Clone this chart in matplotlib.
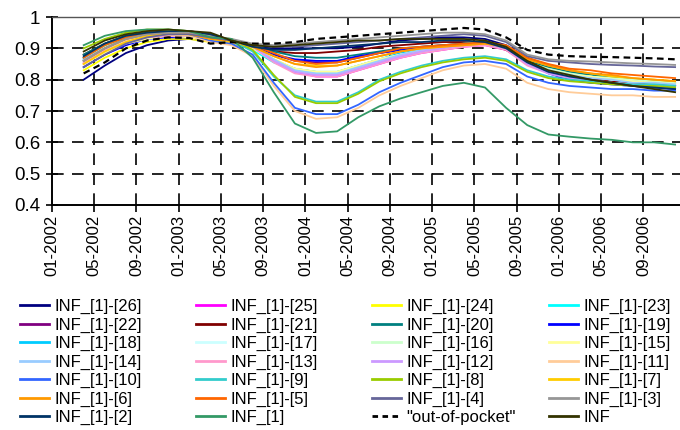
"""INF series vs "out-of-pocket" -- monthly index, 2002-2006 (Excel-style line chart)."""
import matplotlib
matplotlib.use("Agg")
import matplotlib.pyplot as plt
from matplotlib.lines import Line2D

plt.rcParams["font.family"] = ["Liberation Sans Narrow", "Liberation Sans", "DejaVu Sans"]

# month index: 0 = 01-2002
months = [3, 5, 7, 9, 11, 13, 15, 17, 19, 21, 23, 25, 27, 29, 31,
          33, 35, 37, 39, 41, 43, 45, 47, 49, 51, 53, 55, 57, 59]
tick_pos = [0, 4, 8, 12, 16, 20, 24, 28, 32, 36, 40, 44, 48, 52, 56]
tick_labels = ["01-2002", "05-2002", "09-2002", "01-2003", "05-2003", "09-2003",
               "01-2004", "05-2004", "09-2004", "01-2005", "05-2005", "09-2005",
               "01-2006", "05-2006", "09-2006"]

inf_26 = [0.80, 0.845, 0.885, 0.91, 0.925, 0.93, 0.925, 0.92, 0.905, 0.90, 0.90, 0.90, 0.90, 0.905, 0.915,
          0.925, 0.93, 0.935, 0.935, 0.93, 0.91, 0.87, 0.845, 0.83, 0.815, 0.80, 0.79, 0.785, 0.78]
inf_25 = [0.85, 0.89, 0.92, 0.935, 0.94, 0.94, 0.925, 0.92, 0.905, 0.86, 0.825, 0.81, 0.81, 0.83, 0.85,
          0.87, 0.885, 0.895, 0.905, 0.91, 0.895, 0.85, 0.825, 0.81, 0.80, 0.795, 0.79, 0.785, 0.78]
inf_24 = [0.83, 0.87, 0.90, 0.92, 0.93, 0.93, 0.92, 0.915, 0.90, 0.865, 0.835, 0.825, 0.825, 0.845, 0.865,
          0.88, 0.895, 0.905, 0.91, 0.915, 0.905, 0.86, 0.835, 0.82, 0.815, 0.81, 0.80, 0.80, 0.795]
inf_23 = [0.865, 0.90, 0.925, 0.94, 0.945, 0.945, 0.93, 0.92, 0.895, 0.855, 0.83, 0.82, 0.82, 0.84, 0.86,
          0.88, 0.89, 0.90, 0.91, 0.915, 0.90, 0.855, 0.83, 0.82, 0.81, 0.805, 0.80, 0.795, 0.79]
inf_22 = [0.87, 0.91, 0.935, 0.945, 0.95, 0.95, 0.94, 0.925, 0.905, 0.88, 0.86, 0.855, 0.855, 0.87, 0.885,
          0.895, 0.905, 0.91, 0.915, 0.915, 0.90, 0.855, 0.83, 0.815, 0.805, 0.80, 0.79, 0.785, 0.78]
inf_21 = [0.88, 0.915, 0.94, 0.95, 0.955, 0.955, 0.945, 0.925, 0.905, 0.89, 0.885, 0.885, 0.89, 0.895, 0.905,
          0.91, 0.915, 0.92, 0.92, 0.915, 0.895, 0.855, 0.83, 0.815, 0.805, 0.795, 0.79, 0.785, 0.78]
inf_20 = [0.88, 0.915, 0.94, 0.95, 0.955, 0.95, 0.935, 0.925, 0.91, 0.89, 0.875, 0.87, 0.87, 0.88, 0.89,
          0.90, 0.905, 0.91, 0.915, 0.92, 0.905, 0.86, 0.84, 0.825, 0.815, 0.81, 0.80, 0.795, 0.79]
inf_19 = [0.84, 0.88, 0.91, 0.93, 0.935, 0.935, 0.925, 0.92, 0.905, 0.88, 0.865, 0.86, 0.86, 0.875, 0.885,
          0.895, 0.90, 0.905, 0.91, 0.915, 0.90, 0.855, 0.82, 0.80, 0.79, 0.785, 0.78, 0.775, 0.77]
inf_18 = [0.87, 0.905, 0.93, 0.945, 0.95, 0.945, 0.93, 0.925, 0.90, 0.86, 0.835, 0.825, 0.825, 0.845, 0.865,
          0.885, 0.895, 0.905, 0.915, 0.92, 0.905, 0.855, 0.83, 0.815, 0.81, 0.80, 0.795, 0.79, 0.785]
inf_17 = [0.865, 0.90, 0.925, 0.94, 0.945, 0.94, 0.925, 0.92, 0.90, 0.86, 0.83, 0.82, 0.82, 0.84, 0.86,
          0.88, 0.89, 0.90, 0.91, 0.915, 0.90, 0.85, 0.83, 0.815, 0.81, 0.80, 0.795, 0.79, 0.79]
inf_16 = [0.87, 0.905, 0.93, 0.945, 0.95, 0.945, 0.93, 0.925, 0.90, 0.86, 0.835, 0.825, 0.825, 0.845, 0.865,
          0.88, 0.895, 0.905, 0.91, 0.915, 0.90, 0.855, 0.835, 0.82, 0.81, 0.805, 0.80, 0.795, 0.79]
inf_15 = [0.85, 0.885, 0.915, 0.93, 0.94, 0.935, 0.925, 0.92, 0.90, 0.865, 0.835, 0.825, 0.825, 0.845, 0.865,
          0.88, 0.89, 0.90, 0.91, 0.915, 0.90, 0.855, 0.83, 0.815, 0.81, 0.80, 0.795, 0.79, 0.785]
inf_14 = [0.865, 0.90, 0.925, 0.94, 0.945, 0.94, 0.925, 0.92, 0.905, 0.865, 0.83, 0.82, 0.82, 0.84, 0.86,
          0.88, 0.895, 0.905, 0.91, 0.915, 0.90, 0.855, 0.83, 0.815, 0.805, 0.80, 0.79, 0.79, 0.785]
inf_13 = [0.855, 0.895, 0.92, 0.935, 0.94, 0.94, 0.925, 0.92, 0.905, 0.855, 0.82, 0.81, 0.81, 0.83, 0.85,
          0.87, 0.885, 0.895, 0.905, 0.91, 0.895, 0.845, 0.82, 0.805, 0.795, 0.79, 0.785, 0.78, 0.78]
inf_12 = [0.86, 0.90, 0.925, 0.94, 0.945, 0.94, 0.925, 0.92, 0.905, 0.86, 0.825, 0.815, 0.815, 0.835, 0.855,
          0.875, 0.89, 0.90, 0.91, 0.915, 0.90, 0.85, 0.82, 0.805, 0.80, 0.79, 0.785, 0.78, 0.775]
inf_11 = [0.85, 0.89, 0.925, 0.94, 0.945, 0.94, 0.92, 0.91, 0.875, 0.78, 0.70, 0.675, 0.68, 0.71, 0.75,
          0.78, 0.805, 0.83, 0.845, 0.85, 0.835, 0.79, 0.77, 0.76, 0.755, 0.75, 0.75, 0.745, 0.745]
inf_10 = [0.86, 0.90, 0.93, 0.945, 0.95, 0.945, 0.925, 0.915, 0.88, 0.79, 0.71, 0.69, 0.69, 0.72, 0.76,
          0.79, 0.815, 0.84, 0.855, 0.86, 0.85, 0.81, 0.79, 0.78, 0.775, 0.77, 0.77, 0.765, 0.765]
inf_9 = [0.87, 0.91, 0.935, 0.95, 0.955, 0.95, 0.93, 0.925, 0.89, 0.81, 0.75, 0.73, 0.73, 0.76, 0.80,
         0.825, 0.845, 0.86, 0.87, 0.875, 0.865, 0.83, 0.81, 0.80, 0.795, 0.79, 0.785, 0.785, 0.78]
inf_8 = [0.90, 0.93, 0.95, 0.96, 0.96, 0.955, 0.935, 0.93, 0.895, 0.815, 0.745, 0.725, 0.725, 0.755, 0.795,
         0.82, 0.84, 0.855, 0.865, 0.87, 0.86, 0.825, 0.805, 0.795, 0.79, 0.785, 0.78, 0.78, 0.775]
inf_7 = [0.85, 0.89, 0.92, 0.94, 0.945, 0.945, 0.93, 0.92, 0.905, 0.875, 0.85, 0.845, 0.845, 0.86, 0.875,
         0.89, 0.90, 0.905, 0.91, 0.915, 0.905, 0.865, 0.845, 0.83, 0.82, 0.81, 0.805, 0.80, 0.795]
inf_6 = [0.86, 0.90, 0.93, 0.945, 0.95, 0.945, 0.93, 0.925, 0.905, 0.875, 0.85, 0.84, 0.845, 0.86, 0.875,
         0.89, 0.90, 0.905, 0.91, 0.915, 0.905, 0.865, 0.845, 0.83, 0.82, 0.815, 0.805, 0.80, 0.795]
inf_5 = [0.87, 0.91, 0.935, 0.95, 0.955, 0.95, 0.935, 0.925, 0.91, 0.885, 0.86, 0.85, 0.855, 0.87, 0.885,
         0.90, 0.905, 0.91, 0.915, 0.92, 0.91, 0.87, 0.85, 0.835, 0.83, 0.82, 0.815, 0.81, 0.805]
inf_4 = [0.84, 0.88, 0.915, 0.935, 0.945, 0.945, 0.935, 0.925, 0.91, 0.905, 0.905, 0.91, 0.915, 0.92, 0.925,
         0.93, 0.935, 0.94, 0.945, 0.94, 0.92, 0.875, 0.86, 0.855, 0.85, 0.847, 0.845, 0.842, 0.84]
inf_3 = [0.86, 0.90, 0.93, 0.945, 0.95, 0.95, 0.94, 0.93, 0.915, 0.91, 0.915, 0.92, 0.925, 0.93, 0.935,
         0.94, 0.945, 0.95, 0.95, 0.945, 0.925, 0.88, 0.865, 0.86, 0.858, 0.855, 0.852, 0.85, 0.847]
inf_2 = [0.875, 0.915, 0.94, 0.95, 0.955, 0.955, 0.945, 0.925, 0.905, 0.895, 0.895, 0.90, 0.905, 0.91, 0.915,
         0.92, 0.92, 0.925, 0.925, 0.92, 0.90, 0.855, 0.825, 0.81, 0.80, 0.79, 0.78, 0.775, 0.77]
inf_1 = [0.91, 0.94, 0.955, 0.96, 0.96, 0.955, 0.935, 0.93, 0.87, 0.76, 0.66, 0.63, 0.635, 0.68, 0.715,
         0.74, 0.76, 0.78, 0.79, 0.775, 0.71, 0.655, 0.625, 0.618, 0.612, 0.608, 0.60, 0.60, 0.593]
out_of_pocket = [0.82, 0.855, 0.90, 0.925, 0.935, 0.933, 0.915, 0.92, 0.915, 0.915, 0.92, 0.93, 0.935, 0.94, 0.945,
                 0.95, 0.955, 0.96, 0.965, 0.96, 0.935, 0.895, 0.88, 0.875, 0.873, 0.872, 0.87, 0.868, 0.865]
inf_all = [0.89, 0.925, 0.945, 0.955, 0.96, 0.955, 0.95, 0.925, 0.91, 0.905, 0.91, 0.915, 0.92, 0.925, 0.925,
           0.93, 0.93, 0.93, 0.93, 0.925, 0.905, 0.86, 0.83, 0.815, 0.80, 0.79, 0.78, 0.77, 0.76]

labels = ["INF_[1]-[26]", "INF_[1]-[25]", "INF_[1]-[24]", "INF_[1]-[23]",
          "INF_[1]-[22]", "INF_[1]-[21]", "INF_[1]-[20]", "INF_[1]-[19]",
          "INF_[1]-[18]", "INF_[1]-[17]", "INF_[1]-[16]", "INF_[1]-[15]",
          "INF_[1]-[14]", "INF_[1]-[13]", "INF_[1]-[12]", "INF_[1]-[11]",
          "INF_[1]-[10]", "INF_[1]-[9]", "INF_[1]-[8]", "INF_[1]-[7]",
          "INF_[1]-[6]", "INF_[1]-[5]", "INF_[1]-[4]", "INF_[1]-[3]",
          "INF_[1]-[2]", "INF_[1]", "\"out-of-pocket\"", "INF"]
series = [inf_26, inf_25, inf_24, inf_23, inf_22, inf_21, inf_20, inf_19,
          inf_18, inf_17, inf_16, inf_15, inf_14, inf_13, inf_12, inf_11,
          inf_10, inf_9, inf_8, inf_7, inf_6, inf_5, inf_4, inf_3,
          inf_2, inf_1, out_of_pocket, inf_all]
colors = ["#000080", "#FF00FF", "#FFFF00", "#00FFFF",
          "#800080", "#800000", "#008080", "#0000FF",
          "#00CCFF", "#CCFFFF", "#CCFFCC", "#FFFF99",
          "#99CCFF", "#FF99CC", "#CC99FF", "#FFCC99",
          "#3366FF", "#33CCCC", "#99CC00", "#FFCC00",
          "#FF9900", "#FF6600", "#666699", "#969696",
          "#003366", "#339966", "#000000", "#333300"]

fig = plt.figure(figsize=(6.8, 4.3), dpi=100)
ax = fig.add_axes([52 / 680, 1 - 205 / 430, 640 / 680, 188 / 430])

handles = []
for lab, ys, col in zip(labels, series, colors):
    is_oop = lab.startswith("\"out")
    if is_oop:
        ax.plot(months, ys, color=col, lw=1.6, dashes=(3, 2))
    else:
        ax.plot(months, ys, color=col, lw=1.3)
    handles.append(Line2D([], [], color=col, lw=2.0,
                          dashes=(2, 1.6) if is_oop else (None, None)))

ax.set_xlim(0, 60.6)
ax.set_ylim(0.4, 1.0)
ax.set_yticks([0.4, 0.5, 0.6, 0.7, 0.8, 0.9, 1.0])
ax.set_yticklabels(["0.4", "0.5", "0.6", "0.7", "0.8", "0.9", "1"])
ax.set_xticks(tick_pos)
ax.set_xticklabels(tick_labels, rotation=90)

for y in [0.5, 0.6, 0.7, 0.8, 0.9]:
    ax.axhline(y, color="black", lw=1.2, dashes=(7, 5), zorder=0.5)
for x in tick_pos[1:]:
    ax.axvline(x, color="black", lw=1.2, dashes=(7, 5), zorder=0.5)

ax.spines["right"].set_visible(False)
ax.spines["top"].set_color("#555555")
ax.spines["top"].set_linewidth(1.0)
ax.spines["left"].set_linewidth(1.4)
ax.spines["bottom"].set_linewidth(1.4)
ax.tick_params(axis="y", direction="inout", length=9, width=1.2, labelsize=13.5, pad=4)
ax.tick_params(axis="x", direction="out", length=5, width=1.2, labelsize=12, pad=2)

# the legend in the picture reads row-wise: one single-column legend per column
ncol, nrow = 4, 7
col_x = [20, 196, 372, 549]
for c in range(ncol):
    idx = [r * ncol + c for r in range(nrow)]
    fig.legend([handles[i] for i in idx], [labels[i] for i in idx],
               loc="upper left", bbox_to_anchor=(col_x[c] / 680, 1 - 299 / 430),
               ncol=1, frameon=False, fontsize=12, handlelength=1.75,
               handletextpad=0.3, labelspacing=0.2,
               borderpad=0, borderaxespad=0)

fig.savefig("out.png", dpi=100)
